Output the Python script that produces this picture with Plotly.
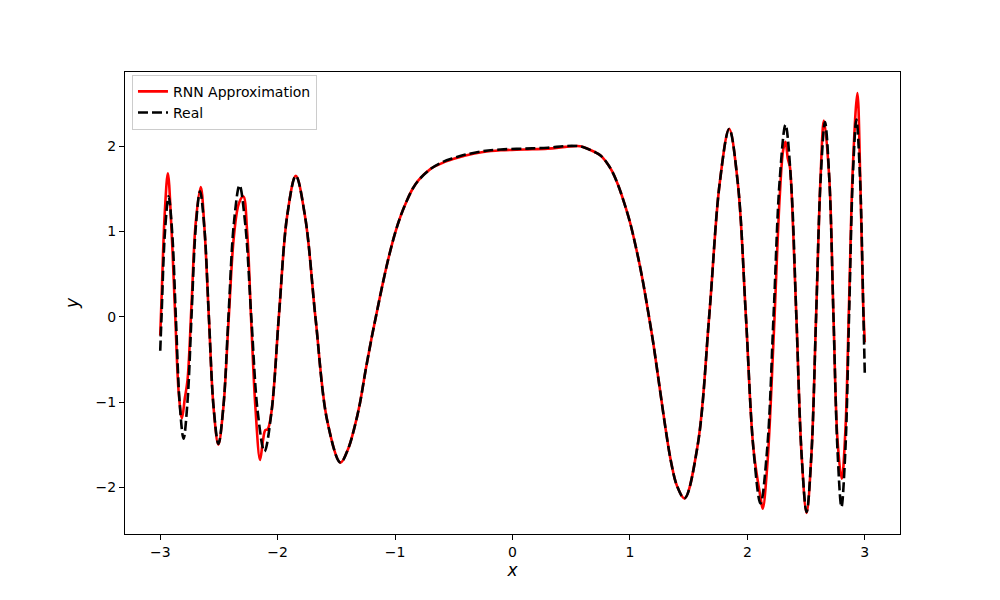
import plotly.graph_objects as go

# values (extrema, crossings and points in between)
x_real = [-3.000, -2.989, -2.9594, -2.9288, -2.8984, -2.8669, -2.8345, -2.8014,
          -2.768, -2.7332, -2.6978, -2.6612, -2.624, -2.5854, -2.5455, -2.5044,
          -2.462, -2.418, -2.3723, -2.3248, -2.2754, -2.2238, -2.1695, -2.1123,
          -2.052, -1.9878, -1.9192, -1.8453, -1.765, -1.6765, -1.5777, -1.4646,
          -1.40, -1.35, -1.30, -1.25, -1.20, -1.15, -1.10, -1.05, -1.00, -0.95,
          -0.90, -0.85, -0.80, -0.70, -0.60, -0.50, -0.40, -0.25, -0.10, 0.10,
          0.30, 0.45, 0.55, 0.60, 0.70, 0.75, 0.80, 0.85, 0.90, 0.95, 1.00,
          1.05, 1.10, 1.15, 1.20, 1.25, 1.30, 1.35, 1.40, 1.4646,
          1.5777, 1.6765, 1.765, 1.8453,
          1.9192, 1.9878, 2.052, 2.1123, 2.1695, 2.2238, 2.2754, 2.3248, 2.3723,
          2.418, 2.462, 2.5044, 2.5455, 2.5854, 2.624, 2.6612, 2.6978, 2.7332,
          2.768, 2.8014, 2.8345, 2.8669, 2.8984, 2.9288, 2.9594, 2.989, 3.000]
y_real = [-0.40, 0.00, 1.00, 1.41, 0.99, -0.01, -1.01, -1.43,
          -1.00, 0.02, 1.04, 1.47, 1.04, -0.01, -1.06, -1.49,
          -1.05, 0.03, 1.10, 1.54, 1.08, -0.02, -1.12, -1.58,
          -1.11, 0.04, 1.18, 1.65, 1.16, -0.03, -1.22, -1.71,
          -1.55, -1.32, -1.02, -0.62, -0.25, 0.09, 0.42, 0.72, 0.98, 1.19,
          1.36, 1.50, 1.60, 1.73, 1.81, 1.86, 1.90, 1.94, 1.96, 1.97,
          1.98, 2.00, 2.00, 1.99, 1.93, 1.89, 1.81, 1.70, 1.54, 1.34, 1.11,
          0.82, 0.49, 0.10, -0.32, -0.80, -1.28, -1.70, -1.98, -2.13,
          -1.50, 0.03, 1.57, 2.20,
          1.56, 0.00, -1.55, -2.19, -1.54, 0.03, 1.60, 2.25, 1.58,
          -0.02, -1.62, -2.29, -1.62, 0.00, 1.61, 2.28, 1.62, 0.02,
          -1.57, -2.23, -1.57, 0.04, 1.65, 2.31, 1.63, 0.00, -0.66]

x_rnn = [-3.000, -2.989, -2.962, -2.935, -2.905, -2.872, -2.842, -2.815,
         -2.790, -2.768, -2.7332, -2.6978, -2.655, -2.624, -2.5854, -2.5455,
         -2.505, -2.462, -2.418, -2.372, -2.330, -2.292, -2.260, -2.2238,
         -2.190, -2.150, -2.125, -2.105, -2.085, -2.052, -1.9878, -1.9192,
         -1.8453, -1.765, -1.6765, -1.5777, -1.4646,
         -1.40, -1.35, -1.30, -1.25, -1.20, -1.15, -1.10, -1.05, -1.00, -0.95,
         -0.90, -0.85, -0.80, -0.70, -0.60, -0.50, -0.40, -0.25, -0.10, 0.10,
         0.30, 0.45, 0.55, 0.60, 0.70, 0.75, 0.80, 0.85, 0.90, 0.95, 1.00,
         1.05, 1.10, 1.15, 1.20, 1.25, 1.30, 1.35, 1.40, 1.4646,
         1.5777, 1.6765, 1.765, 1.8453, 1.9192, 1.9878,
         2.052, 2.1123, 2.131, 2.1695, 2.2238, 2.2754, 2.305, 2.325, 2.345,
         2.362, 2.3723, 2.418, 2.462, 2.5044, 2.5455, 2.5854, 2.624, 2.652,
         2.6978, 2.7332, 2.768, 2.804, 2.8345, 2.8669, 2.8984, 2.937, 2.962,
         2.985, 3.000]
y_rnn = [-0.22, 0.20, 1.20, 1.68, 1.05, 0.00, -0.90, -1.19,
         -0.95, -0.75, 0.15, 1.10, 1.52, 1.05, -0.02, -1.07,
         -1.50, -1.06, -0.05, 0.95, 1.33, 1.41, 1.00, -0.10,
         -1.05, -1.68, -1.45, -1.33, -1.32, -1.11, 0.04, 1.18,
         1.65, 1.16, -0.03, -1.22, -1.71,
         -1.55, -1.32, -1.02, -0.62, -0.25, 0.09, 0.42, 0.72, 0.98, 1.19,
         1.36, 1.50, 1.60, 1.73, 1.80, 1.85, 1.89, 1.93, 1.95, 1.96,
         1.97, 1.99, 2.00, 1.99, 1.93, 1.89, 1.81, 1.70, 1.54, 1.34, 1.11,
         0.82, 0.49, 0.10, -0.32, -0.80, -1.28, -1.70, -1.98, -2.13,
         -1.50, 0.03, 1.57, 2.20, 1.56, 0.00,
         -1.55, -2.12, -2.25, -1.75, -0.25, 1.40, 1.95, 2.05, 1.85,
         1.76, 1.58, -0.02, -1.62, -2.30, -1.62, 0.00, 1.65, 2.30,
         1.62, 0.02, -1.45, -1.90, -1.35, 0.20, 1.75, 2.62, 1.60,
         0.20, -0.30]

x_ticks = [-3, -2, -1, 0, 1, 2, 3]
y_ticks = [-2, -1, 0, 1, 2]


def tick_text(vals):
    return [str(v).replace('-', '\u2212') for v in vals]


fig = go.Figure()
fig.add_trace(go.Scatter(x=x_rnn, y=y_rnn, mode='lines', name='RNN Approximation',
                         line=dict(color='red', width=2.6, shape='spline', smoothing=1.0)))
fig.add_trace(go.Scatter(x=x_real, y=y_real, mode='lines', name='Real',
                         line=dict(color='black', width=2.6, dash='10px,4px',
                                   shape='spline', smoothing=1.0)))

axis_style = dict(showline=True, mirror=True, linecolor='black', linewidth=1,
                  ticks='outside', ticklen=5, tickwidth=1, tickcolor='black',
                  showgrid=False, zeroline=False)

# page body adds ~8px, so margins are shifted to land the axes box at 125..900 / 72..534
fig.update_layout(
    width=1000, height=600,
    margin=dict(l=117, r=108, t=64, b=74),
    plot_bgcolor='white', paper_bgcolor='white',
    font=dict(family='DejaVu Sans', size=14, color='black'),
    xaxis=dict(range=[-3.3, 3.3], tickvals=x_ticks, ticktext=tick_text(x_ticks),
               title=dict(text='<i>x</i>', standoff=5), **axis_style),
    yaxis=dict(range=[-2.547, 2.868], tickvals=y_ticks, ticktext=tick_text(y_ticks),
               title=dict(text='<i>y</i>', standoff=12), **axis_style),
    legend=dict(x=0.009, y=0.994, xanchor='left', yanchor='top',
                bordercolor='#cccccc', borderwidth=1,
                bgcolor='rgba(255,255,255,0.8)', font=dict(size=14)),
    showlegend=True,
)

fig.write_html("out.html")
